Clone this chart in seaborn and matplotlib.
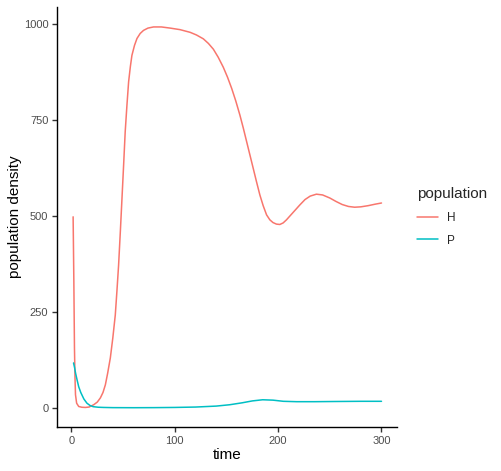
import numpy as np
import pandas as pd
import matplotlib
matplotlib.use("Agg")
import matplotlib.pyplot as plt
import seaborn as sns

time_H = [1.6, 2.3, 2.9, 3.4, 3.9, 5, 7, 10, 13.5, 17, 21.5, 25, 28, 30.5, 32.8, 35, 37.6, 40, 42.4, 44, 45.6, 47.3, 48.9, 50.5,
          52, 53.7, 55.3, 57, 58.5, 61, 63.4, 66.5, 69.7, 74, 79.4, 87, 95.5, 105, 114.8, 121, 127.6, 132.5, 137.3, 142, 146.9,
          151, 155, 159, 163, 166.3, 169.5, 172.7, 175.9, 179, 182.3, 185.5, 188.8, 192, 195, 198.3, 201.6, 204.8, 208,
          214, 221, 226, 231, 237, 243, 250, 256, 262, 268, 274, 280, 287, 294, 300]
H_vals = [498, 330, 156, 80, 34, 12, 3.5, 1.5, 1, 2, 8, 15, 26, 40, 60, 90, 130, 182, 242, 305, 372, 460, 547, 635,
          720, 790, 850, 890, 919, 945, 963, 976, 984, 990, 993, 993, 990, 986, 979, 972, 962, 950, 935, 914, 888,
          862, 833, 800, 763, 729, 694, 659, 624, 590, 555, 527, 503, 490, 483, 479, 478, 482, 490,
          508, 529, 543, 552, 557, 555, 547, 538, 530, 525, 523, 524, 527, 531, 534]

time_P = [2, 3, 4, 5.5, 7, 9, 12, 15, 18, 21, 26, 31, 40, 60, 80, 100, 120, 140, 153, 165, 175, 185, 195, 205, 218, 235, 255, 280, 300]
P_vals = [117, 105, 90, 72, 55, 40, 23, 12, 6, 3, 1.5, 1, 0.5, 0.3, 0.5, 1, 2, 4.5, 8, 13, 18, 21, 20, 17, 16, 16, 16.5, 17, 17]

df = pd.concat([
    pd.DataFrame({"time": time_H, "population density": H_vals, "population": "H"}),
    pd.DataFrame({"time": time_P, "population density": P_vals, "population": "P"}),
])

sns.set_theme(style="ticks")
plt.rcParams["font.family"] = ["Liberation Sans", "DejaVu Sans"]

fig = plt.figure(figsize=(5.02, 4.71), dpi=100)
ax = fig.add_axes([57/502, 1 - 427/471, (397-57)/502, (427-7)/471])

sns.lineplot(data=df, x="time", y="population density", hue="population",
             palette={"H": "#F8766D", "P": "#00BFC4"}, linewidth=1.1, ax=ax,
             estimator=None, sort=False)
for ln in ax.get_lines():
    ln.set_solid_joinstyle("round")

ax.set_xlim(-14, 315)
ax.set_ylim(-50, 1045)
ax.set_xticks([0, 100, 200, 300])
ax.set_yticks([0, 250, 500, 750, 1000])
for s in ["top", "right"]:
    ax.spines[s].set_visible(False)
for s in ["left", "bottom"]:
    ax.spines[s].set_linewidth(1.0)
    ax.spines[s].set_color("black")
ax.tick_params(axis="both", length=3.7, width=1.0, color="#333333",
               labelsize=8, labelcolor="#4D4D4D", pad=2.5)
ax.set_xlabel("time", fontsize=11, color="black", labelpad=2)
ax.set_ylabel("population density", fontsize=11, color="black", labelpad=1.5)

sns.move_legend(ax, loc="center left", bbox_to_anchor=(412/502, 1 - 217/471),
                bbox_transform=fig.transFigure, frameon=False, title="population",
                fontsize=8.5, title_fontsize=11, handlelength=1.8, labelspacing=0.9,
                alignment="left", borderaxespad=0)

fig.savefig("out.png", dpi=100)
